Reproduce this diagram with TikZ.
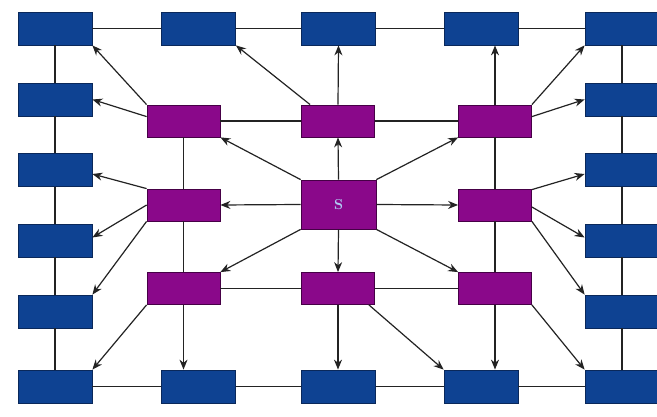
\documentclass[tikz,border=0pt]{standalone}
\usetikzlibrary{arrows.meta}
\definecolor{boxblue}{RGB}{14,66,146}
\definecolor{edgeblue}{RGB}{10,40,90}
\definecolor{boxpurple}{RGB}{138,8,138}
\definecolor{edgepurple}{RGB}{70,0,70}
\definecolor{slabel}{RGB}{175,205,245}
\definecolor{wire}{RGB}{35,35,35}
\begin{document}
\begin{tikzpicture}[x=1pt,y=-1pt,
  outer/.style={rectangle,draw=edgeblue,fill=boxblue,line width=0.8pt,
    minimum width=74pt,minimum height=33pt,inner sep=0pt},
  inner/.style={rectangle,draw=edgepurple,fill=boxpurple,line width=0.8pt,
    minimum width=73pt,minimum height=32pt,inner sep=0pt},
  link/.style={draw=wire,line width=1.2pt},
  feed/.style={link,-{Stealth[length=10pt,width=8pt]}}]
\useasboundingbox[fill=white] (0,0) rectangle (657,417);

% outer ring: top row
\node[outer] (L1) at (55,28.5) {};
\node[outer] (T2) at (198.5,28.5) {};
\node[outer] (T3) at (338.5,28.5) {};
\node[outer] (T4) at (481,28.5) {};
\node[outer] (R1) at (622,28.5) {};
% left column
\node[outer] (L2) at (55,99.5) {};
\node[outer] (L3) at (55,170) {};
\node[outer] (L4) at (55,240.5) {};
\node[outer] (L5) at (55,311.5) {};
\node[outer] (L6) at (55,386.5) {};
% right column
\node[outer] (R2) at (622,99.5) {};
\node[outer] (R3) at (622,170) {};
\node[outer] (R4) at (622,240.5) {};
\node[outer] (R5) at (622,311.5) {};
\node[outer] (R6) at (622,386.5) {};
% bottom row
\node[outer] (B2) at (198.5,386.5) {};
\node[outer] (B3) at (338.5,386.5) {};
\node[outer] (B4) at (481,386.5) {};

% inner ring
\node[inner] (pTL) at (183.5,121) {};
\node[inner] (pTM) at (338,121) {};
\node[inner] (pTR) at (495,121) {};
\node[inner] (pML) at (183.5,205) {};
\node[inner] (pMR) at (495,205) {};
\node[inner] (pBL) at (183.5,288.5) {};
\node[inner] (pBM) at (338,288.5) {};
\node[inner] (pBR) at (495,288.5) {};

% source
\node[inner,minimum width=75pt,minimum height=49pt,
  font=\bfseries\Large,text=slabel] (S) at (338.5,204.5) {S};

% plain links of the outer ring
\path[link] (L1) -- (T2) (T2) -- (T3) (T3) -- (T4) (T4) -- (R1);
\path[link] (L6) -- (B2) (B2) -- (B3) (B3) -- (B4) (B4) -- (R6);
\path[link] (L1) -- (L2) (L2) -- (L3) (L3) -- (L4) (L4) -- (L5) (L5) -- (L6);
\path[link] (R1) -- (R2) (R2) -- (R3) (R3) -- (R4) (R4) -- (R5) (R5) -- (R6);

% plain links of the inner ring
\path[link] (pTL) -- (pTM) (pTM) -- (pTR);
\path[link] (pBL) -- (pBM) (pBM) -- (pBR);
\path[link] (pTL) -- (pML) (pML) -- (pBL);
\path[link] (pTR) -- (pMR) (pMR) -- (pBR);

% source to inner ring
\path[feed] (S.north) -- (pTM.south);
\path[feed] (S.south) -- (pBM.north);
\path[feed] (S.west) -- (pML.east);
\path[feed] (S.east) -- (pMR.west);
\path[feed] (S.north west) -- (pTL.south east);
\path[feed] (S.north east) -- (pTR.south west);
\path[feed] (S.south west) -- (pBL.north east);
\path[feed] (S.south east) -- (pBR.north west);

% inner ring to outer ring, left side
\path[feed] (pTL.north west) -- (L1.south east);
\path[feed] ([yshift=-12pt]pTL.north west) -- (L2.east);
\path[feed] (pML.north west) -- ([yshift=-4pt]L3.east);
\path[feed] (pML.west) -- ([yshift=3pt]L4.east);
\path[feed] (pML.south west) -- (L5.north east);
\path[feed] (pBL.south west) -- (L6.north east);

% inner ring to outer ring, top
\path[feed] ([xshift=9pt]pTM.north west) -- (T2.south east);
\path[feed] (pTM.north) -- (T3.south);
\path[feed] (pTR.north) -- (pTR.north |- T4.south);

% inner ring to outer ring, right side
\path[feed] (pTR.north east) -- (R1.south west);
\path[feed] ([yshift=-12pt]pTR.north east) -- (R2.west);
\path[feed] ([yshift=-1pt]pMR.north east) -- ([yshift=-4pt]R3.west);
\path[feed] ([yshift=-2pt]pMR.east) -- ([yshift=3pt]R4.west);
\path[feed] (pMR.south east) -- (R5.north west);
\path[feed] (pBR.south east) -- (R6.north west);

% inner ring to outer ring, bottom
\path[feed] (pBL.south) -- (pBL.south |- B2.north);
\path[feed] (pBM.south) -- (pBM.south |- B3.north);
\path[feed] ([xshift=-6pt]pBM.south east) -- (B4.north west);
\path[feed] (pBR.south) -- (pBR.south |- B4.north);
\end{tikzpicture}
\end{document}
